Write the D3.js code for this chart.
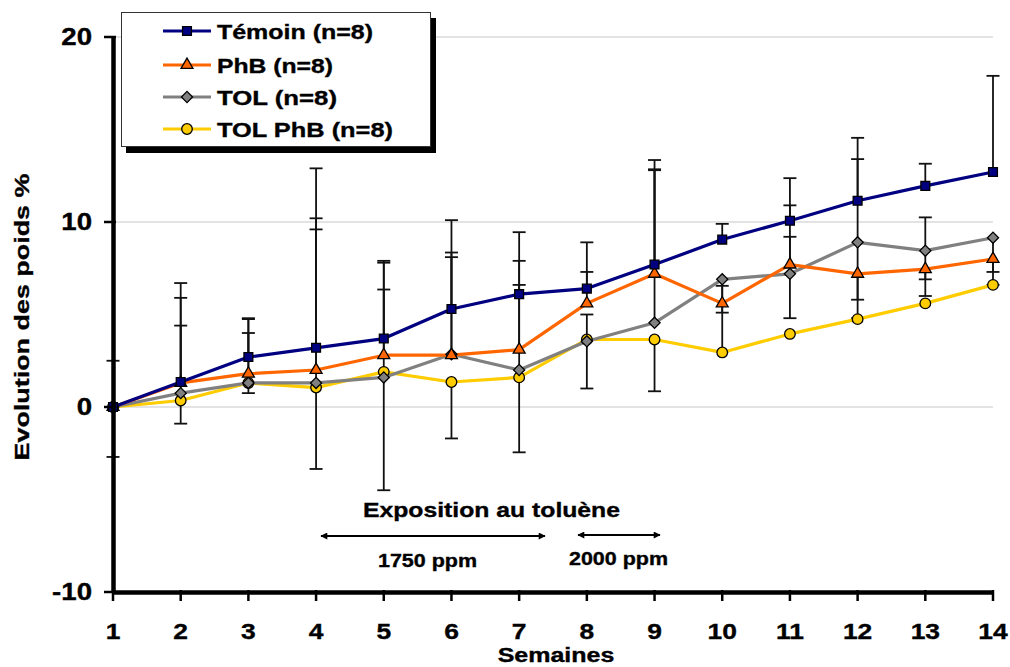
<!DOCTYPE html>
<html><head><meta charset="utf-8">
<script src="https://cdn.jsdelivr.net/npm/d3@7"></script>
<style>
html,body{margin:0;padding:0;background:#fff;}
svg{display:block;}
text{font-family:"Liberation Sans",Arial,sans-serif;font-weight:bold;fill:#000;stroke:#000;stroke-width:0.35px;}
</style></head>
<body>
<svg id="chart" width="1010" height="667"></svg>
<script>
// ---- Data ----
const weeks = [1,2,3,4,5,6,7,8,9,10,11,12,13,14];
const yTicks = [-10,0,10,20];
const seriesNames = ["Témoin (n=8)","PhB (n=8)","TOL (n=8)","TOL PhB (n=8)"];

const temoin      = [0,1.35,2.7,3.2,3.7,5.3,6.1,6.4,7.7,9.05,10.07,11.15,11.95,12.7];
const temoinPlus  = [2.5,5.35,2.1,9.7,4.2,4.8,3.35,2.5,5.65,0.85,2.3,3.4,1.2,5.2];
const temoinMinus = [2.7,0,0,0,0,0,0,0,0,0,0,0,0,0];

const phb      = [0,1.3,1.8,2.0,2.8,2.8,3.1,5.6,7.2,5.6,7.7,7.2,7.45,8.0];
const phbPlus  = [0,4.6,2.95,8.2,5.0,5.55,4.8,1.7,5.65,0.95,1.5,0,0,0];
const phbMinus = [0,0,0,0,0,0,0,0,0,0.5,0,1.4,0.55,0.7];

const tol      = [0,0.75,1.3,1.3,1.6,2.85,2.0,3.55,4.55,6.9,7.2,8.9,8.45,9.15];
const tolPlus  = [0,3.65,2.7,8.3,4.75,5.25,4.6,1.45,8.25,0,3.7,4.5,1.8,0];
const tolMinus = [0,0,0,0,0,0,0,0,0,3.9,2.4,4.1,2.45,2.55];

const tolphb      = [0,0.35,1.3,1.05,1.9,1.35,1.6,3.65,3.65,2.95,3.95,4.75,5.6,6.6];
const tolphbPlus  = [0,0,0,0,0,0,0,0,0,0,0,0,0,0];
const tolphbMinus = [0,1.25,0.55,4.4,6.4,3.05,4.05,2.65,2.8,0,0,0,0,0];

const series = [
  {name:seriesNames[0], values:temoin, plus:temoinPlus, minus:temoinMinus, color:"#000080", fill:"#000080", shape:"square", tl:156},
  {name:seriesNames[1], values:phb, plus:phbPlus, minus:phbMinus, color:"#FF6600", fill:"#FF6600", shape:"triangle", tl:116},
  {name:seriesNames[2], values:tol, plus:tolPlus, minus:tolMinus, color:"#808080", fill:"#808080", shape:"diamond", tl:120},
  {name:seriesNames[3], values:tolphb, plus:tolphbPlus, minus:tolphbMinus, color:"#FFCC00", fill:"#FFCC00", shape:"circle", tl:176}
];

// ---- Scales ----
const svg = d3.select("#chart");
const x = d3.scaleLinear().domain([1,14]).range([113,993]);
const y = d3.scaleLinear().domain([-10,20]).range([592,37]);

// gridlines
svg.append("g").selectAll("line").data(yTicks.filter(d=>d>-10)).join("line")
  .attr("x1",x(1)).attr("x2",x(14)).attr("y1",d=>y(d)).attr("y2",d=>y(d))
  .attr("stroke","#c8c8c8").attr("stroke-width",1.2);

// error bars
const eb = svg.append("g");
series.forEach(s=>{
  weeks.forEach((w,i)=>{
    const v=s.values[i], p=s.plus[i], m=s.minus[i];
    const cx=x(w);
    if(p>0){
      eb.append("line").attr("x1",cx).attr("x2",cx).attr("y1",y(v)).attr("y2",y(v+p)).attr("stroke","#111").attr("stroke-width",1.8);
      eb.append("line").attr("x1",cx-6.5).attr("x2",cx+6.5).attr("y1",y(v+p)).attr("y2",y(v+p)).attr("stroke","#111").attr("stroke-width",1.8);
    }
    if(m>0){
      eb.append("line").attr("x1",cx).attr("x2",cx).attr("y1",y(v)).attr("y2",y(v-m)).attr("stroke","#111").attr("stroke-width",1.8);
      eb.append("line").attr("x1",cx-6.5).attr("x2",cx+6.5).attr("y1",y(v-m)).attr("y2",y(v-m)).attr("stroke","#111").attr("stroke-width",1.8);
    }
  });
});

// lines
const line = d3.line().x((d,i)=>x(weeks[i])).y(d=>y(d));
series.slice().reverse().forEach(s=>{
  svg.append("path").attr("d",line(s.values)).attr("fill","none")
    .attr("stroke",s.color).attr("stroke-width",3.2).attr("stroke-linejoin","round");
});

function marker(g, shape, fill){
  if(shape==="circle"){
    return g.append("circle").attr("r",5.3).attr("fill",fill).attr("stroke","#000").attr("stroke-width",1.3);
  }
  let sym, rot=0, size;
  if(shape==="square"){sym=d3.symbolSquare; size=78;}
  else if(shape==="triangle"){sym=d3.symbolTriangle; size=62;}
  else {sym=d3.symbolSquare; size=62; rot=45;}
  return g.append("path").attr("d",d3.symbol().type(sym).size(size)()).attr("transform","rotate("+rot+")")
    .attr("fill",fill).attr("stroke","#000").attr("stroke-width",1.3);
}

// markers
series.slice().reverse().forEach(s=>{
  s.values.forEach((v,i)=>{
    const g=svg.append("g").attr("transform",`translate(${x(weeks[i])},${y(v)})`);
    marker(g,s.shape,s.fill);
  });
});

// axes
const yAxis = d3.axisLeft(y).tickValues(yTicks).tickSize(0).tickFormat("");
const ya = svg.append("g").attr("transform","translate(113,0)").call(yAxis);
ya.select(".domain").attr("stroke","#000").attr("stroke-width",4.5);
yTicks.forEach(t=>{
  svg.append("line").attr("x1",104).attr("x2",116).attr("y1",y(t)).attr("y2",y(t)).attr("stroke","#000").attr("stroke-width",2.5);
});
const xAxis = d3.axisBottom(x).tickValues(weeks).tickSize(0).tickFormat("");
const xa = svg.append("g").attr("transform","translate(0,592)").call(xAxis);
xa.select(".domain").attr("stroke","#000").attr("stroke-width",4.5);
weeks.forEach(w=>{
  svg.append("line").attr("x1",x(w)).attr("x2",x(w)).attr("y1",590).attr("y2",601).attr("stroke","#000").attr("stroke-width",2.5);
});

// tick labels (wide glyphs, as in reference)
function stext(txt, px, py, size, anchor, sx){
  return svg.append("text").attr("transform",`translate(${px},${py}) scale(${sx},1)`)
    .attr("text-anchor",anchor).attr("font-size",size).text(txt);
}
yTicks.forEach(t=>{ stext(String(t), 92, y(t)+8, 23, "end", 1.2); });
weeks.forEach(w=>{ stext(String(w), x(w), 639, 22, "middle", 1.2); });

// axis titles
stext("Semaines", 556, 662, 20, "middle", 1.25);
svg.append("text").attr("transform","translate(29,317) rotate(-90)")
  .attr("text-anchor","middle").attr("font-size",21)
  .attr("textLength",287).attr("lengthAdjust","spacingAndGlyphs")
  .text("Evolution des poids %");

// annotations
svg.append("text").attr("x",363).attr("y",517).attr("font-size",20.5)
  .attr("textLength",257).attr("lengthAdjust","spacingAndGlyphs").text("Exposition au toluène");
svg.append("text").attr("x",378).attr("y",567).attr("font-size",18)
  .attr("textLength",99).attr("lengthAdjust","spacingAndGlyphs").text("1750 ppm");
svg.append("text").attr("x",569).attr("y",565).attr("font-size",18)
  .attr("textLength",99).attr("lengthAdjust","spacingAndGlyphs").text("2000 ppm");

const defs = svg.append("defs");
defs.append("marker").attr("id","ah").attr("viewBox","0 0 10 10").attr("refX",9).attr("refY",5)
  .attr("markerWidth",9).attr("markerHeight",7).attr("markerUnits","userSpaceOnUse").attr("orient","auto-start-reverse")
  .append("path").attr("d","M0,0 L10,5 L0,10 Z").attr("fill","#000");
[[321,545,536],[578,660,535]].forEach(a=>{
  svg.append("line").attr("x1",a[0]).attr("x2",a[1]).attr("y1",a[2]).attr("y2",a[2])
    .attr("stroke","#000").attr("stroke-width",2)
    .attr("marker-start","url(#ah)").attr("marker-end","url(#ah)");
});

// legend
const lg = svg.append("g");
lg.append("rect").attr("x",126).attr("y",18).attr("width",310).attr("height",135).attr("fill","#000");
lg.append("rect").attr("x",121.5).attr("y",12.5).attr("width",309).attr("height",134).attr("fill","#fff").attr("stroke","#333").attr("stroke-width",1);
const rowsY=[31,65,97,129];
series.forEach((s,i)=>{
  const ry=rowsY[i];
  lg.append("line").attr("x1",163).attr("x2",211).attr("y1",ry).attr("y2",ry).attr("stroke",s.color).attr("stroke-width",3.2);
  const g=lg.append("g").attr("transform",`translate(187,${ry})`);
  marker(g,s.shape,s.fill);
  lg.append("text").attr("x",217).attr("y",ry+7.5).attr("font-size",21)
    .attr("textLength",s.tl).attr("lengthAdjust","spacingAndGlyphs").text(s.name);
});
</script>
</body></html>
